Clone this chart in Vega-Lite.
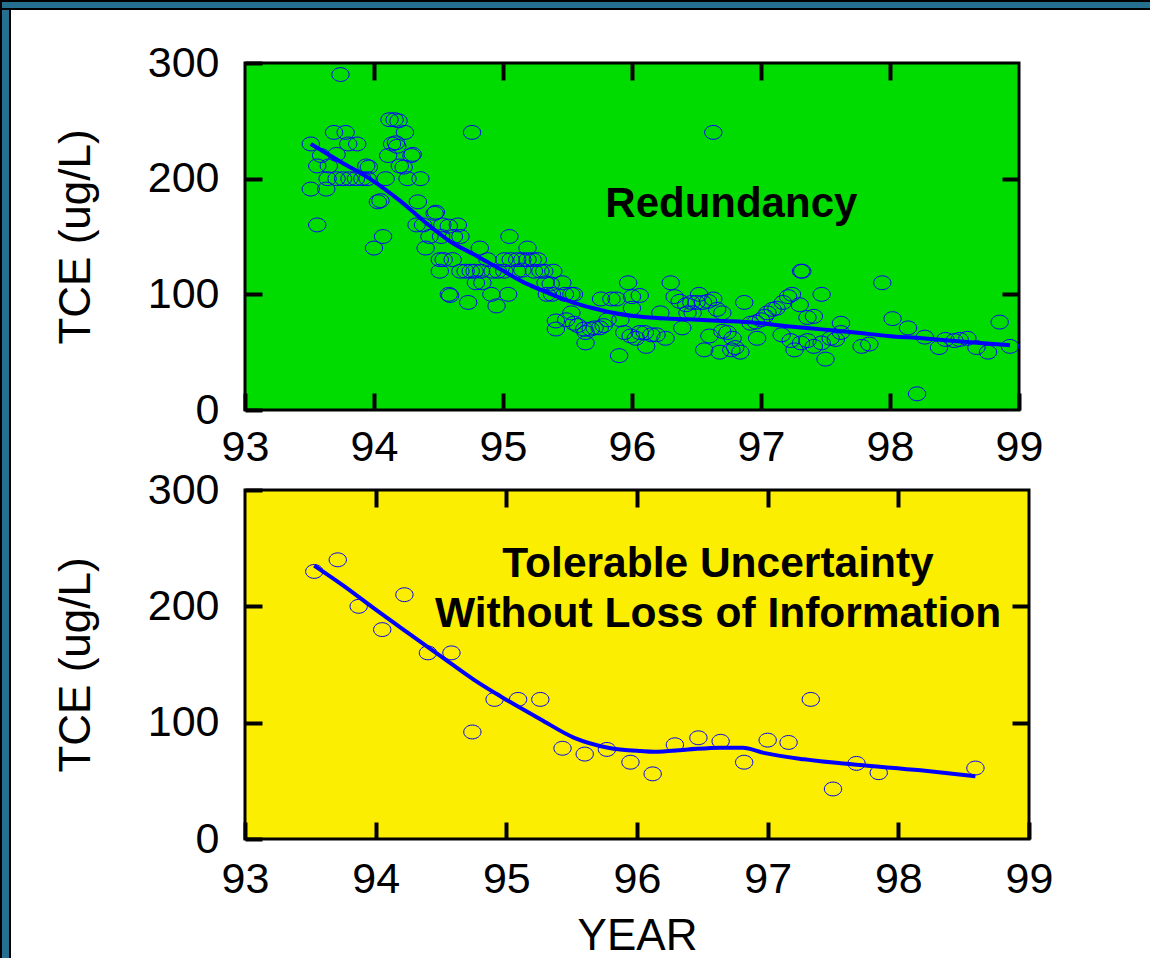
{
  "$schema": "https://vega.github.io/schema/vega-lite/v6.json",
  "background": "white",
  "padding": 0,
  "autosize": {"type": "pad"},
  "datasets": {
    "redundancy": [
      {"year":93.74,"tce":290},{"year":93.51,"tce":230},{"year":93.69,"tce":240},{"year":93.78,"tce":240},{"year":93.59,"tce":220},{"year":93.71,"tce":221},{"year":93.80,"tce":230},{"year":93.87,"tce":230},{"year":93.56,"tce":211},{"year":93.65,"tce":211},
      {"year":93.64,"tce":200},{"year":93.71,"tce":200},{"year":93.76,"tce":200},{"year":93.81,"tce":200},{"year":93.86,"tce":200},{"year":93.91,"tce":200},{"year":93.95,"tce":200},{"year":93.94,"tce":211},{"year":93.96,"tce":210},{"year":93.51,"tce":191},
      {"year":93.63,"tce":191},{"year":93.56,"tce":160},{"year":94.09,"tce":200},{"year":94.03,"tce":180},{"year":94.05,"tce":181},{"year":94.07,"tce":150},{"year":94.00,"tce":140},{"year":94.12,"tce":251},{"year":94.16,"tce":251},{"year":94.19,"tce":250},
      {"year":94.24,"tce":240},{"year":94.14,"tce":230},{"year":94.17,"tce":231},{"year":94.18,"tce":228},{"year":94.11,"tce":220},{"year":94.29,"tce":220},{"year":94.30,"tce":221},{"year":94.20,"tce":211},{"year":94.23,"tce":210},{"year":94.26,"tce":200},
      {"year":94.36,"tce":200},{"year":94.34,"tce":180},{"year":94.47,"tce":170},{"year":94.48,"tce":171},{"year":94.33,"tce":160},{"year":94.38,"tce":160},{"year":94.43,"tce":150},{"year":94.53,"tce":160},{"year":94.58,"tce":159},{"year":94.65,"tce":160},
      {"year":94.40,"tce":140},{"year":94.52,"tce":150},{"year":94.62,"tce":150},{"year":94.67,"tce":150},{"year":94.51,"tce":130},{"year":94.54,"tce":130},{"year":94.61,"tce":130},{"year":94.51,"tce":120},{"year":94.67,"tce":120},{"year":94.71,"tce":120},
      {"year":94.75,"tce":120},{"year":94.78,"tce":120},{"year":94.83,"tce":120},{"year":94.58,"tce":100},{"year":94.59,"tce":99},{"year":94.73,"tce":93},{"year":94.76,"tce":240},{"year":94.82,"tce":140},{"year":94.79,"tce":110},{"year":94.84,"tce":110},
      {"year":94.92,"tce":120},{"year":94.96,"tce":120},{"year":95.01,"tce":120},{"year":94.88,"tce":130},{"year":94.91,"tce":100},{"year":94.95,"tce":90},{"year":95.04,"tce":100},{"year":95.01,"tce":130},{"year":95.06,"tce":130},{"year":95.11,"tce":130},
      {"year":95.15,"tce":130},{"year":95.19,"tce":130},{"year":95.23,"tce":130},{"year":95.27,"tce":130},{"year":95.05,"tce":150},{"year":95.19,"tce":140},{"year":95.24,"tce":120},{"year":95.29,"tce":120},{"year":95.32,"tce":120},{"year":95.39,"tce":120},
      {"year":95.11,"tce":120},{"year":95.15,"tce":121},{"year":95.33,"tce":110},{"year":95.37,"tce":109},{"year":95.34,"tce":100},{"year":95.38,"tce":100},{"year":95.46,"tce":110},{"year":95.53,"tce":100},{"year":95.55,"tce":100},{"year":95.48,"tce":100},
      {"year":95.41,"tce":77},{"year":95.41,"tce":70},{"year":95.53,"tce":84},{"year":95.49,"tce":78},{"year":95.55,"tce":75},{"year":95.58,"tce":73},{"year":95.63,"tce":70},{"year":95.64,"tce":67},{"year":95.68,"tce":70},{"year":95.71,"tce":71},
      {"year":95.75,"tce":71},{"year":95.78,"tce":73},{"year":95.81,"tce":78},{"year":95.64,"tce":58},{"year":95.76,"tce":96},{"year":95.84,"tce":96},{"year":95.88,"tce":96},{"year":95.97,"tce":110},{"year":96.00,"tce":98},{"year":95.90,"tce":47},
      {"year":95.94,"tce":67},{"year":95.99,"tce":64},{"year":96.03,"tce":62},{"year":96.06,"tce":67},{"year":95.91,"tce":78},{"year":96.63,"tce":240},{"year":96.06,"tce":99},{"year":96.00,"tce":88},{"year":96.10,"tce":67},{"year":96.15,"tce":65},
      {"year":96.19,"tce":65},{"year":96.11,"tce":55},{"year":96.26,"tce":62},{"year":96.22,"tce":84},{"year":96.30,"tce":110},{"year":96.33,"tce":98},{"year":96.37,"tce":94},{"year":96.39,"tce":71},{"year":96.42,"tce":91},{"year":96.46,"tce":93},
      {"year":96.50,"tce":93},{"year":96.52,"tce":100},{"year":96.55,"tce":93},{"year":96.59,"tce":94},{"year":96.63,"tce":96},{"year":96.66,"tce":87},{"year":96.43,"tce":84},{"year":96.47,"tce":84},{"year":96.56,"tce":52},{"year":96.68,"tce":50},
      {"year":96.60,"tce":64},{"year":96.70,"tce":68},{"year":96.74,"tce":67},{"year":96.78,"tce":62},{"year":96.80,"tce":54},{"year":96.84,"tce":50},{"year":96.77,"tce":52},{"year":96.70,"tce":84},{"year":96.87,"tce":93},{"year":96.92,"tce":75},
      {"year":96.96,"tce":76},{"year":97.00,"tce":78},{"year":97.03,"tce":81},{"year":97.05,"tce":84},{"year":97.09,"tce":87},{"year":97.12,"tce":88},{"year":97.17,"tce":93},{"year":97.21,"tce":98},{"year":97.24,"tce":100},{"year":96.97,"tce":62},
      {"year":97.16,"tce":65},{"year":97.23,"tce":60},{"year":97.26,"tce":52},{"year":97.31,"tce":120},{"year":97.32,"tce":120},{"year":97.30,"tce":91},{"year":97.36,"tce":80},{"year":97.41,"tce":81},{"year":97.47,"tce":100},{"year":97.31,"tce":58},
      {"year":97.36,"tce":60},{"year":97.41,"tce":55},{"year":97.47,"tce":58},{"year":97.50,"tce":44},{"year":97.54,"tce":62},{"year":97.58,"tce":61},{"year":97.62,"tce":75},{"year":97.62,"tce":67},{"year":97.78,"tce":55},{"year":97.84,"tce":57},
      {"year":97.94,"tce":110},{"year":98.02,"tce":79},{"year":98.14,"tce":71},{"year":98.21,"tce":14},{"year":98.27,"tce":63},{"year":98.38,"tce":54},{"year":98.43,"tce":61},{"year":98.50,"tce":60},{"year":98.54,"tce":61},{"year":98.60,"tce":62},
      {"year":98.67,"tce":54},{"year":98.76,"tce":50},{"year":98.85,"tce":76},{"year":98.93,"tce":55}
    ],
    "redundancyFit": [
      {"year":93.51,"tce":230},{"year":93.75,"tce":214},{"year":93.98,"tce":199},{"year":94.2,"tce":181},{"year":94.39,"tce":163},{"year":94.6,"tce":145},{"year":94.8,"tce":133},{"year":94.98,"tce":121.6},{"year":95.15,"tce":111},{"year":95.29,"tce":104},
      {"year":95.42,"tce":98},{"year":95.55,"tce":92.7},{"year":95.7,"tce":88},{"year":95.81,"tce":85},{"year":96.0,"tce":81.5},{"year":96.2,"tce":79.5},{"year":96.43,"tce":78.4},{"year":96.7,"tce":77},{"year":96.95,"tce":75.5},{"year":97.2,"tce":72.5},
      {"year":97.47,"tce":69.7},{"year":97.75,"tce":66.8},{"year":97.98,"tce":64},{"year":98.25,"tce":62},{"year":98.5,"tce":59.6},{"year":98.75,"tce":57.5},{"year":98.93,"tce":56}
    ],
    "tolerable": [
      {"year":93.53,"tce":230},{"year":93.71,"tce":240},{"year":93.87,"tce":200},{"year":94.05,"tce":180},{"year":94.22,"tce":210},{"year":94.40,"tce":160},{"year":94.58,"tce":160},{"year":94.74,"tce":92},{"year":94.91,"tce":120},{"year":95.09,"tce":120},
      {"year":95.26,"tce":120},{"year":95.43,"tce":78},{"year":95.60,"tce":73},{"year":95.77,"tce":77},{"year":95.95,"tce":66},{"year":96.12,"tce":56},{"year":96.29,"tce":81},{"year":96.47,"tce":87},{"year":96.64,"tce":84},{"year":96.82,"tce":66},
      {"year":97.00,"tce":85},{"year":97.16,"tce":83},{"year":97.33,"tce":120},{"year":97.50,"tce":43},{"year":97.68,"tce":65},{"year":97.85,"tce":57},{"year":98.59,"tce":61}
    ],
    "tolerableFit": [
      {"year":93.53,"tce":235},{"year":93.75,"tce":218},{"year":93.99,"tce":198},{"year":94.25,"tce":177},{"year":94.50,"tce":157},{"year":94.75,"tce":137},{"year":95.01,"tce":119},{"year":95.26,"tce":103},{"year":95.52,"tce":87},{"year":95.78,"tce":78.5},
      {"year":96.03,"tce":75.6},{"year":96.13,"tce":75},{"year":96.39,"tce":77},{"year":96.64,"tce":78.5},{"year":96.81,"tce":78.5},{"year":96.97,"tce":74},{"year":97.28,"tce":68.5},{"year":97.66,"tce":64},{"year":98.17,"tce":59},{"year":98.59,"tce":54}
    ],
    "labels1": [{"label": "Redundancy"}],
    "labels2": [{"label": ["Tolerable Uncertainty", "Without Loss of Information"]}],
    "empty": []
  },
  "vconcat": [
    {
      "width": 1150, "height": 8,
      "data": {"name": "empty"},
      "mark": "point",
      "view": {"fill": "#256f91", "stroke": "black", "strokeWidth": 2}
    },
    {
      "hconcat": [
        {
          "width": 9, "height": 950,
          "data": {"name": "empty"},
          "mark": "point",
          "view": {"fill": "#256f91", "stroke": "black", "strokeWidth": 2}
        },
        {
          "vconcat": [
            {
              "width": 1, "height": 1,
              "data": {"name": "empty"},
              "mark": "point",
              "view": {"stroke": null}
            },
            {
              "vconcat": [
                {
                  "width": 774, "height": 347,
                  "view": {"fill": "#00dc00", "stroke": "black", "strokeWidth": 3},
                  "layer": [
                    {
                      "data": {"name": "redundancy"},
                      "mark": {"type": "point", "shape": "M-1,0A1,0.8,0,1,0,1,0A1,0.8,0,1,0,-1,0Z", "filled": false, "color": "#0000ff", "strokeWidth": 1, "size": 300, "opacity": 1},
                      "encoding": {
                        "x": {"field": "year", "type": "quantitative", "scale": {"domain": [93, 99], "nice": false, "zero": false},
                              "axis": {"orient": "bottom", "values": [93, 94, 95, 96, 97, 98, 99], "format": "d", "title": null, "labelPadding": 33}},
                        "y": {"field": "tce", "type": "quantitative", "scale": {"domain": [0, 300], "nice": false},
                              "axis": {"orient": "left", "values": [0, 100, 200, 300], "format": "d", "title": "TCE (ug/L)", "labelPadding": 43, "titlePadding": 49}}
                      }
                    },
                    {
                      "data": {"name": "redundancyFit"},
                      "mark": {"type": "line", "color": "#0000ff", "strokeWidth": 4, "interpolate": "monotone"},
                      "encoding": {
                        "x": {"field": "year", "type": "quantitative", "scale": {"domain": [93, 99], "nice": false, "zero": false},
                              "axis": {"orient": "top", "values": [94, 95, 96, 97, 98], "labels": false, "title": null}},
                        "y": {"field": "tce", "type": "quantitative", "scale": {"domain": [0, 300], "nice": false},
                              "axis": {"orient": "right", "values": [100, 200], "labels": false, "title": null}}
                      }
                    },
                    {
                      "data": {"name": "labels1"},
                      "mark": {"type": "text", "font": "Liberation Sans", "fontWeight": "bold", "fontSize": 42, "color": "black", "align": "center", "baseline": "middle"},
                      "encoding": {
                        "x": {"datum": 96.77, "type": "quantitative", "axis": null},
                        "y": {"datum": 178, "type": "quantitative", "axis": null},
                        "text": {"field": "label"}
                      }
                    }
                  ],
                  "resolve": {"axis": {"x": "independent", "y": "independent"}}
                },
                {
                  "width": 784, "height": 349,
                  "view": {"fill": "#fbee00", "stroke": "black", "strokeWidth": 3},
                  "layer": [
                    {
                      "data": {"name": "tolerable"},
                      "mark": {"type": "point", "shape": "M-1,0A1,0.8,0,1,0,1,0A1,0.8,0,1,0,-1,0Z", "filled": false, "color": "#0000ff", "strokeWidth": 1, "size": 300, "opacity": 1},
                      "encoding": {
                        "x": {"field": "year", "type": "quantitative", "scale": {"domain": [93, 99], "nice": false, "zero": false},
                              "axis": {"orient": "bottom", "values": [93, 94, 95, 96, 97, 98, 99], "format": "d", "title": "YEAR", "labelPadding": 36, "titlePadding": 13}},
                        "y": {"field": "tce", "type": "quantitative", "scale": {"domain": [0, 300], "nice": false},
                              "axis": {"orient": "left", "values": [0, 100, 200, 300], "format": "d", "title": "TCE (ug/L)", "labelPadding": 43, "titlePadding": 49}}
                      }
                    },
                    {
                      "data": {"name": "tolerableFit"},
                      "mark": {"type": "line", "color": "#0000ff", "strokeWidth": 4, "interpolate": "monotone"},
                      "encoding": {
                        "x": {"field": "year", "type": "quantitative", "scale": {"domain": [93, 99], "nice": false, "zero": false},
                              "axis": {"orient": "top", "values": [94, 95, 96, 97, 98], "labels": false, "title": null}},
                        "y": {"field": "tce", "type": "quantitative", "scale": {"domain": [0, 300], "nice": false},
                              "axis": {"orient": "right", "values": [100, 200], "labels": false, "title": null}}
                      }
                    },
                    {
                      "data": {"name": "labels2"},
                      "mark": {"type": "text", "font": "Liberation Sans", "fontWeight": "bold", "fontSize": 42.5, "color": "black", "align": "center", "baseline": "middle", "lineHeight": 50},
                      "encoding": {
                        "x": {"datum": 96.62, "type": "quantitative", "axis": null},
                        "y": {"datum": 236, "type": "quantitative", "axis": null},
                        "text": {"field": "label"}
                      }
                    }
                  ],
                  "resolve": {"axis": {"x": "independent", "y": "independent"}}
                }
              ],
              "spacing": 80,
              "bounds": "flush"
            }
          ],
          "spacing": 53,
          "bounds": "flush"
        }
      ],
      "spacing": 235,
      "bounds": "flush"
    }
  ],
  "spacing": 0,
  "bounds": "flush",
  "config": {
    "view": {"stroke": null},
    "axis": {
      "domain": false,
      "grid": false,
      "ticks": true,
      "tickSize": -17,
      "tickWidth": 4,
      "tickColor": "black",
      "labelFont": "Liberation Sans",
      "labelFontSize": 43,
      "labelColor": "black",
      "labelFlush": false,
      "labelOverlap": false,
      "titleFont": "Liberation Sans",
      "titleFontSize": 44,
      "titleFontWeight": "normal",
      "titleColor": "black"
    }
  }
}
